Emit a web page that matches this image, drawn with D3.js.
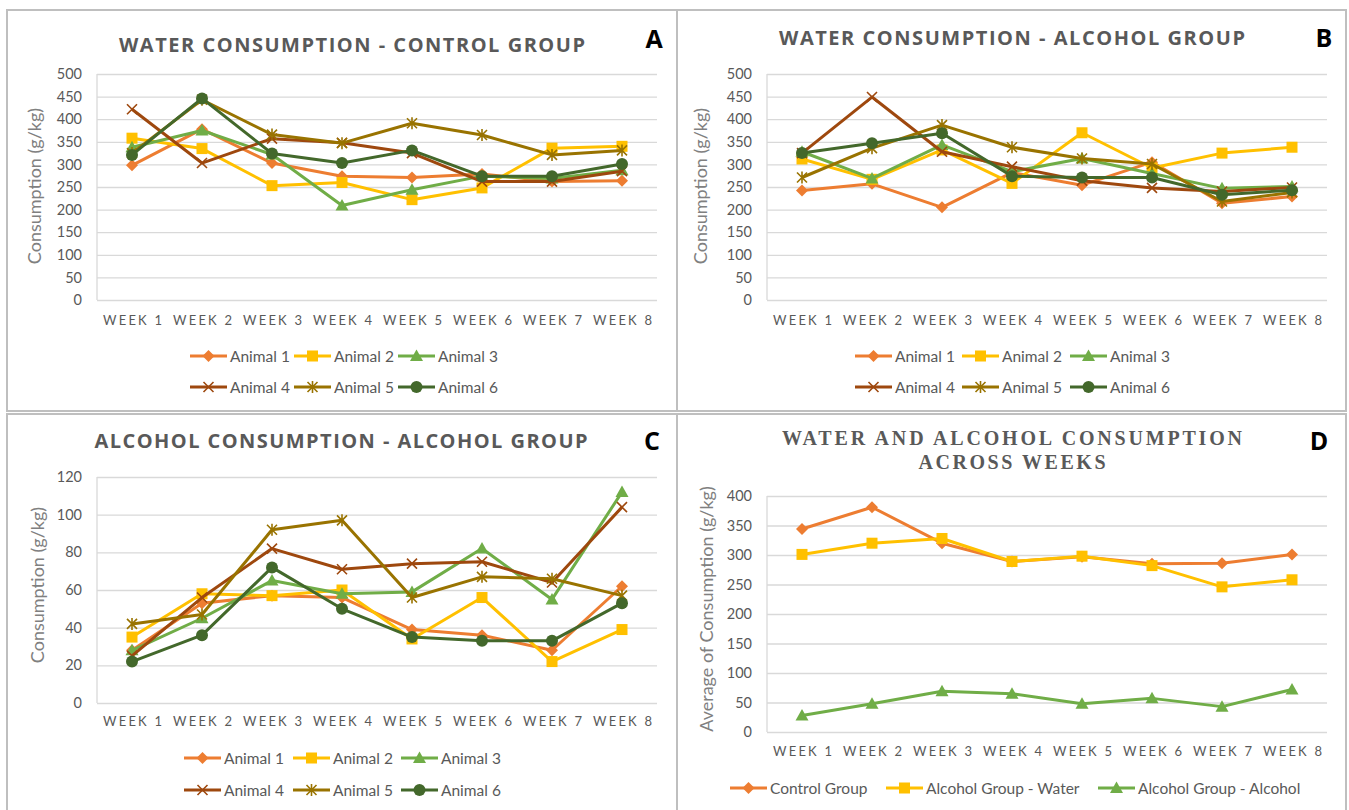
<!DOCTYPE html>
<html>
<head>
<meta charset="utf-8">
<script src="https://cdn.jsdelivr.net/npm/d3@7"></script>
<style>
  body { margin: 0; background: #fff; }
  svg { display: block; }
  text { font-family: Lato, "Open Sans", sans-serif; }
</style>
</head>
<body>
<script>
// ---- data ----
const weeks = ["WEEK 1", "WEEK 2", "WEEK 3", "WEEK 4", "WEEK 5", "WEEK 6", "WEEK 7", "WEEK 8"];
const animals = ["Animal 1", "Animal 2", "Animal 3", "Animal 4", "Animal 5", "Animal 6"];

// A - water, control group (g/kg)
const waterControl = [
  [298, 378, 303, 274, 271, 279, 262, 264],
  [358, 335, 253, 260, 222, 248, 336, 340],
  [338, 375, 322, 209, 244, 274, 269, 287],
  [422, 303, 357, 348, 325, 262, 262, 285],
  [325, 443, 366, 347, 391, 365, 321, 331],
  [321, 446, 324, 303, 331, 274, 274, 301]
];
// B - water, alcohol group
const waterAlcohol = [
  [242, 257, 205, 282, 254, 305, 214, 229],
  [312, 267, 332, 258, 370, 292, 325, 338],
  [328, 269, 343, 284, 313, 280, 247, 251],
  [325, 449, 328, 295, 264, 248, 240, 249],
  [271, 336, 387, 338, 313, 301, 218, 238],
  [325, 347, 369, 274, 271, 271, 233, 243]
];
// C - alcohol, alcohol group
const alcoholAlcohol = [
  [28, 53, 57, 56, 39, 36, 28, 62],
  [35, 58, 57, 60, 34, 56, 22, 39],
  [28, 45, 65, 58, 59, 82, 55, 112],
  [25, 56, 82, 71, 74, 75, 64, 104],
  [42, 47, 92, 97, 56, 67, 66, 57],
  [22, 36, 72, 50, 35, 33, 33, 53]
];
// D - averages
const groups = ["Control Group", "Alcohol Group - Water", "Alcohol Group - Alcohol"];
const averages = [
  [344, 381, 320, 289, 297, 285, 286, 301],
  [301, 320, 328, 289, 298, 282, 246, 258],
  [28, 48, 69, 65, 48, 57, 43, 72]
];

const waterTicks = [0, 50, 100, 150, 200, 250, 300, 350, 400, 450, 500];
const alcoholTicks = [0, 20, 40, 60, 80, 100, 120];
const averageTicks = [0, 50, 100, 150, 200, 250, 300, 350, 400];

const colors = ["#ED7D31", "#FFC000", "#70AD47", "#9E480E", "#997300", "#43682B"];
const shapes = ["diamond", "square", "triangle", "x", "star", "circle"];

const svg = d3.select("body").append("svg").attr("width", 1349).attr("height", 810);

// panel frames
[[7, 10, 670, 401], [677, 10, 669, 401], [7, 414, 670, 400], [677, 414, 669, 400]].forEach(function(r) {
  svg.append("rect").attr("x", r[0]).attr("y", r[1]).attr("width", r[2]).attr("height", r[3])
    .attr("fill", "none").attr("stroke", "#bfbfbf").attr("stroke-width", 2);
});

function marker(g, type, color, cx, cy) {
  if (type == "diamond") {
    g.append("path").attr("d", `M${cx},${cy-6}L${cx+6},${cy}L${cx},${cy+6}L${cx-6},${cy}Z`).attr("fill", color);
  } else if (type == "square") {
    g.append("rect").attr("x", cx-5.5).attr("y", cy-5.5).attr("width", 11).attr("height", 11).attr("fill", color);
  } else if (type == "triangle") {
    g.append("path").attr("d", `M${cx},${cy-6.5}L${cx+6.5},${cy+5}L${cx-6.5},${cy+5}Z`).attr("fill", color);
  } else if (type == "circle") {
    g.append("circle").attr("cx", cx).attr("cy", cy).attr("r", 6).attr("fill", color);
  } else {
    let d = `M${cx-5},${cy-5}L${cx+5},${cy+5}M${cx-5},${cy+5}L${cx+5},${cy-5}`;
    if (type == "star") d += `M${cx},${cy-6}L${cx},${cy+6}`;
    g.append("path").attr("d", d).attr("stroke", color).attr("stroke-width", 1.6).attr("fill", "none");
  }
}

function drawPanel(p) {
  const x = d3.scalePoint().domain(weeks).range([p.x0, p.x1]).padding(0.5);
  const y = d3.scaleLinear().domain([0, d3.max(p.ticks)]).range([p.yBot, p.yTop]);

  //gridlines
  const grid = svg.append("g").attr("transform", `translate(${p.x0},0)`)
    .call(d3.axisLeft(y).tickValues(p.ticks).tickSize(-(p.x1 - p.x0)).tickFormat(""));
  grid.select(".domain").remove();
  grid.selectAll("line").attr("stroke", "#d9d9d9").attr("stroke-width", 1.3);
  svg.append("line").attr("x1", p.x0).attr("x2", p.x0).attr("y1", p.yTop).attr("y2", p.yBot)
    .attr("stroke", "#d9d9d9").attr("stroke-width", 1.3);

  //y labels
  const ya = svg.append("g").attr("transform", `translate(${p.x0},0)`)
    .call(d3.axisLeft(y).tickValues(p.ticks).tickSize(0).tickPadding(15));
  ya.select(".domain").remove();
  ya.selectAll("text").attr("font-size", 14.5).attr("fill", "#595959").style("font-family", "Lato");

  //x labels
  const xa = svg.append("g").attr("transform", `translate(0,${p.yBot})`)
    .call(d3.axisBottom(x).tickSize(0).tickPadding(p.xPad));
  xa.select(".domain").remove();
  xa.selectAll("text").attr("font-size", 13).attr("fill", "#595959").style("font-family", "Lato")
    .attr("textLength", 59).attr("lengthAdjust", "spacing");

  //axis title
  svg.append("text").text(p.yTitle)
    .attr("transform", `translate(${p.ytx},${p.yty}) rotate(-90)`)
    .attr("text-anchor", "middle").attr("dominant-baseline", "central")
    .attr("font-size", 18).attr("fill", "#808080");

  //chart title
  p.title.forEach(function(t) {
    svg.append("text").text(t.s).attr("x", t.x).attr("y", t.y)
      .attr("text-anchor", "middle").attr("dominant-baseline", "central")
      .attr("textLength", t.w).attr("lengthAdjust", "spacing")
      .attr("font-size", 20).attr("font-weight", 700).attr("fill", "#595959")
      .style("font-family", p.serif ? "'Liberation Serif', serif" : "'Open Sans', sans-serif");
  });
  svg.append("text").text(p.letter).attr("x", p.lx).attr("y", p.ly)
    .attr("text-anchor", "middle").attr("dominant-baseline", "central")
    .attr("font-size", 25).attr("font-weight", 700).attr("fill", "#000")
    .style("font-family", "'Open Sans', sans-serif");

  //series
  const line = d3.line().x(function(d, i) { return x(weeks[i]); }).y(function(d) { return y(d); });
  p.series.forEach(function(vals, s) {
    const g = svg.append("g");
    g.append("path").datum(vals).attr("d", line).attr("fill", "none")
      .attr("stroke", colors[s]).attr("stroke-width", 3).attr("stroke-linejoin", "round");
    vals.forEach(function(v, i) { marker(g, shapes[s], colors[s], x(weeks[i]), y(v)); });
  });

  //legend
  p.names.forEach(function(n, s) {
    const lx = p.legX[s % p.legX.length], ly = p.legY[Math.floor(s / p.legX.length)];
    const g = svg.append("g");
    g.append("line").attr("x1", lx).attr("x2", lx + 37).attr("y1", ly).attr("y2", ly)
      .attr("stroke", colors[s]).attr("stroke-width", 3);
    marker(g, shapes[s], colors[s], lx + 18.5, ly);
    g.append("text").text(n).attr("x", lx + 40).attr("y", ly).attr("dominant-baseline", "central")
      .attr("font-size", 15.5).attr("fill", "#595959");
  });
}

drawPanel({
  x0: 97, x1: 657, yTop: 74, yBot: 300, ticks: waterTicks, series: waterControl, names: animals, xPad: 16,
  yTitle: "Consumption (g/kg)", ytx: 34, yty: 186,
  title: [{ s: "WATER CONSUMPTION - CONTROL GROUP", x: 352, y: 44, w: 466 }],
  letter: "A", lx: 654, ly: 38,
  legX: [190, 294, 398], legY: [356, 387]
});
drawPanel({
  x0: 767, x1: 1327, yTop: 74, yBot: 300, ticks: waterTicks, series: waterAlcohol, names: animals, xPad: 16,
  yTitle: "Consumption (g/kg)", ytx: 700, yty: 186,
  title: [{ s: "WATER CONSUMPTION - ALCOHOL GROUP", x: 1012, y: 37, w: 466 }],
  letter: "B", lx: 1324, ly: 37,
  legX: [855, 962, 1070], legY: [356, 387]
});
drawPanel({
  x0: 97, x1: 657, yTop: 477, yBot: 703, ticks: alcoholTicks, series: alcoholAlcohol, names: animals, xPad: 14,
  yTitle: "Consumption (g/kg)", ytx: 37, yty: 585,
  title: [{ s: "ALCOHOL CONSUMPTION - ALCOHOL GROUP", x: 341, y: 440, w: 493 }],
  letter: "C", lx: 652, ly: 440,
  legX: [184, 293, 401], legY: [758, 790]
});
drawPanel({
  x0: 767, x1: 1327, yTop: 496, yBot: 732, ticks: averageTicks, series: averages, names: groups, xPad: 15,
  yTitle: "Average of Consumption (g/kg)", ytx: 706, yty: 609, serif: true,
  title: [{ s: "WATER AND ALCOHOL CONSUMPTION", x: 1012, y: 438, w: 460 },
          { s: "ACROSS WEEKS", x: 1012, y: 462, w: 187 }],
  letter: "D", lx: 1319, ly: 440,
  legX: [730, 886, 1098], legY: [788]
});
</script>
</body>
</html>
